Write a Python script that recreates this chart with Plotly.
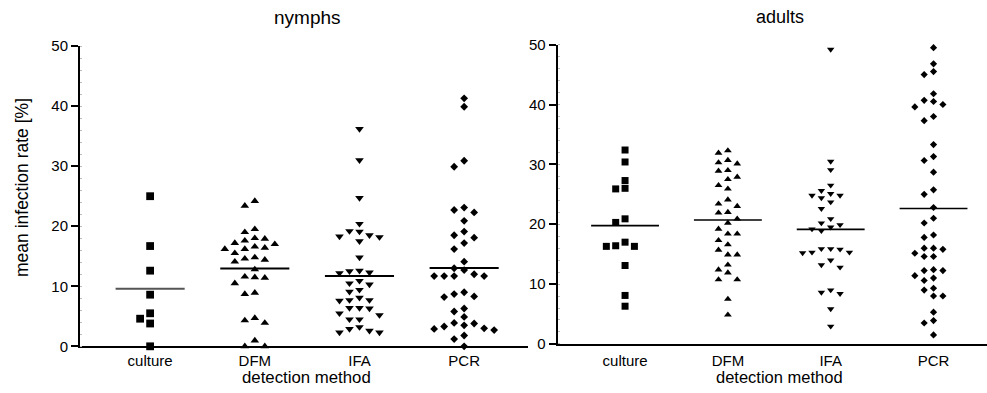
import numpy as np
import plotly.graph_objects as go

# ---------------- data ----------------
categories = ["culture", "DFM", "IFA", "PCR"]
y_tick_values = [0, 10, 20, 30, 40, 50]
panel_titles = ["nymphs", "adults"]
x_title = "detection method"
y_title = "mean infection rate [%]"

nymphs_culture = [25.0, 16.7, 12.6, 8.6, 5.5, 4.6, 3.8, 0.0]
nymphs_dfm = [24.2, 23.4, 19.5, 19.0, 18.0, 17.9, 17.6, 17.0, 17.2, 16.6, 16.4,
              16.2, 16.2, 15.5, 14.6, 14.4, 14.8, 14.1, 12.8, 11.6, 11.4, 11.5,
              10.5, 8.7, 8.9, 4.3, 3.9, 4.7, 0.95, 0.0, 0.0]
nymphs_ifa = [36.2, 31.0, 24.7, 20.4, 19.2, 19.1, 18.5, 18.2, 18.3, 17.5, 14.8,
              12.6, 12.3, 12.2, 12.5, 10.9, 10.3, 10.5, 9.4, 9.1, 8.1, 7.6, 7.7,
              7.7, 5.5, 6.4, 6.3, 6.4, 5.2, 4.5, 4.5, 2.9, 2.3, 2.3, 2.6, 3.2]
nymphs_pcr = [41.3, 39.9, 30.9, 29.9, 23.1, 22.7, 22.3, 20.9, 19.1, 18.5, 18.1,
              17.2, 16.2, 14.1, 13.0, 12.7, 11.7, 11.7, 11.7, 11.7, 12.0, 8.7,
              8.2, 8.3, 9.0, 6.3, 5.8, 4.9, 3.8, 3.5, 3.3, 3.9, 3.0, 2.7, 2.9,
              1.8, 1.2, 0.0]

adults_culture = [32.4, 30.4, 27.3, 26.0, 25.9, 20.9, 20.3, 17.0, 16.3, 16.3,
                  16.4, 13.1, 8.1, 6.3]
adults_dfm = [32.3, 31.9, 30.7, 30.3, 30.1, 29.0, 28.9, 27.9, 27.5, 26.5, 25.9,
              24.1, 23.0, 23.4, 22.0, 21.9, 20.9, 20.2, 19.2, 18.4, 18.4, 17.3,
              16.6, 15.7, 14.9, 14.9, 13.2, 11.9, 12.4, 10.75, 10.75, 7.5, 4.85]
adults_ifa = [49.2, 30.5, 29.1, 26.5, 25.6, 25.1, 24.8, 24.4, 24.8, 23.7, 22.6,
              20.9, 19.9, 20.2, 19.2, 18.9, 19.5, 15.9, 15.3, 15.3, 15.2, 15.8,
              15.9, 13.2, 12.8, 14.0, 9.0, 8.4, 8.6, 5.85, 2.95]
adults_pcr = [49.5, 46.8, 45.5, 45.0, 41.8, 40.7, 40.0, 40.5, 39.6, 38.0, 37.3,
              33.3, 31.3, 30.65, 28.7, 25.75, 25.0, 22.8, 21.0, 20.2, 18.2, 17.8,
              16.0, 15.15, 14.6, 14.6, 15.8, 16.0, 12.4, 11.4, 12.25, 12.25, 11.0,
              10.6, 9.3, 9.0, 8.0, 8.0, 5.3, 3.9, 3.5, 1.5]

nymph_groups = [nymphs_culture, nymphs_dfm, nymphs_ifa, nymphs_pcr]
adult_groups = [adults_culture, adults_dfm, adults_ifa, adults_pcr]

# ---------------- helpers ----------------
def swarm_offsets(values, step, thresh):
    """Greedy beeswarm: place points column by column, avoiding overlap."""
    vals = np.asarray(values, dtype=float)
    order = np.argsort(-vals, kind="stable")
    seq = [0]
    for j in range(1, 12):
        seq += [-j, j]
    placed = {}
    offs = np.zeros(len(vals))
    for i in order:
        v = vals[i]
        for c in seq:
            if all(abs(v - u) >= thresh for u in placed.get(c, [])):
                break
        placed.setdefault(c, []).append(v)
        offs[i] = c * step
    return offs


W, H = 987, 393


def fy(iy):
    """Vertical layout position (px from top) compensating the viewer's squash."""
    return 196.5 + (iy - 196.5) / 0.956


def py(iy):
    return 1 - fy(iy) / H


symbols = ["square", "triangle-up", "triangle-down", "diamond"]
sizes_left = [7.8, 7.5, 7.5, 6.0]
sizes_right = [7.0, 6.8, 6.5, 5.5]
FONT = "Liberation Sans, Arial, Helvetica, sans-serif"

fig = go.Figure()

panels = [
    dict(groups=nymph_groups, xa="x", ya="y", step=0.0955, sizes=sizes_left,
         lw=2.0, half=0.33, thr=1.25),
    dict(groups=adult_groups, xa="x2", ya="y2", step=0.091, sizes=sizes_right,
         lw=1.6, half=0.33, thr=1.2),
]

for p in panels:
    for ci, vals in enumerate(p["groups"]):
        offs = swarm_offsets(vals, p["step"], p["thr"])
        fig.add_trace(go.Scatter(
            x=ci + offs, y=vals, mode="markers",
            marker=dict(symbol=symbols[ci], size=p["sizes"][ci], color="black",
                        line=dict(width=0)),
            xaxis=p["xa"], yaxis=p["ya"], cliponaxis=False, showlegend=False,
            hoverinfo="y",
        ))
        m = float(np.mean(vals))
        col = "#555555" if (p["xa"] == "x" and ci == 0) else "black"
        fig.add_shape(type="line", xref=p["xa"], yref=p["ya"],
                      x0=ci - p["half"], x1=ci + p["half"], y0=m, y1=m,
                      line=dict(color=col, width=p["lw"]))

yaxis_common = dict(
    range=[0, 50], tickvals=y_tick_values, showline=True, linecolor="black",
    linewidth=2, ticks="outside", ticklen=7, tickwidth=1.5, tickcolor="black",
    showgrid=False, zeroline=False, tickfont=dict(size=15, color="black", family=FONT),
    minor=dict(dtick=2, ticks="inside", ticklen=2, tickcolor="#bbbbbb", tickwidth=1),
    fixedrange=True,
)
xaxis_common = dict(
    tickvals=[0, 1, 2, 3], ticktext=categories, showline=True, linecolor="black",
    linewidth=1.5, ticks="", showgrid=False, zeroline=False,
    tickfont=dict(size=15, color="black", family=FONT),
    fixedrange=True,
)

fig.update_layout(
    width=W, height=H, margin=dict(l=0, r=0, t=0, b=0),
    paper_bgcolor="white", plot_bgcolor="white",
    font=dict(family=FONT, color="black"),
    xaxis=dict(xaxis_common, domain=[80 / W, 528 / W], range=[-0.67, 3.61], anchor="y",
               ticklabelstandoff=0),
    yaxis=dict(yaxis_common, domain=[py(345.7), py(45.7)], anchor="x"),
    xaxis2=dict(xaxis_common, domain=[557.7 / W, 1.0], range=[-0.655, 3.52], anchor="y2",
                ticklabelstandoff=2),
    yaxis2=dict(yaxis_common, domain=[py(343.3), py(44.3)], anchor="x2"),
)

# panel titles
fig.add_annotation(text=panel_titles[0], x=307 / W, y=py(17), xref="paper", yref="paper",
                   xanchor="center", yanchor="middle", showarrow=False,
                   font=dict(size=19, color="black", family=FONT))
fig.add_annotation(text=panel_titles[1], x=780 / W, y=1 + 3.5 / H, xref="paper",
                   yref="paper", xanchor="center", yanchor="top", showarrow=False,
                   borderpad=0, font=dict(size=18, color="black", family=FONT))
# x axis titles (as low as the page allows; no descenders in the text)
fig.add_annotation(text=x_title, x=306.5 / W, y=-3.5 / H, xref="paper", yref="paper",
                   xanchor="center", yanchor="bottom", showarrow=False, borderpad=0,
                   font=dict(size=16.8, color="black", family=FONT))
fig.add_annotation(text=x_title, x=779.5 / W, y=-2.5 / H, xref="paper", yref="paper",
                   xanchor="center", yanchor="bottom", showarrow=False, borderpad=0,
                   font=dict(size=16.5, color="black", family=FONT))
# y axis title
fig.add_annotation(text=y_title, x=22 / W, y=py(187.5), xref="paper", yref="paper",
                   xanchor="center", yanchor="middle", showarrow=False, textangle=-90,
                   font=dict(size=17.5, color="black", family=FONT))

fig.write_html("out.html")
